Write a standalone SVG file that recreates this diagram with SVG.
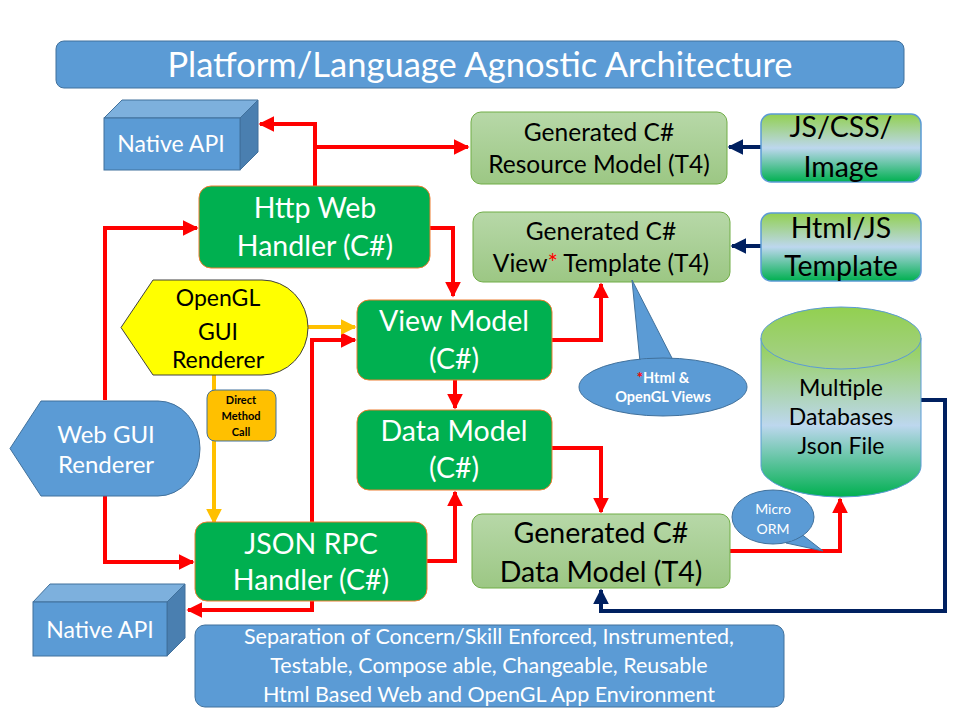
<svg xmlns="http://www.w3.org/2000/svg" width="960" height="720" viewBox="0 0 960 720">
<defs>
<linearGradient id="gGen" x1="0" y1="0" x2="0" y2="1"><stop offset="0" stop-color="#B7D8A8"/><stop offset="1" stop-color="#9CC784"/></linearGradient>
<linearGradient id="gSrc" x1="0" y1="0" x2="0" y2="1"><stop offset="0" stop-color="#92D050"/><stop offset="0.5" stop-color="#BDD7EE"/><stop offset="1" stop-color="#00B050"/></linearGradient>
<linearGradient id="gDb" x1="0" y1="0" x2="0" y2="1"><stop offset="0" stop-color="#92D050"/><stop offset="0.55" stop-color="#BDD7EE"/><stop offset="1" stop-color="#00B050"/></linearGradient>
<linearGradient id="gTop" x1="0" y1="0" x2="0" y2="1"><stop offset="0" stop-color="#92D050"/><stop offset="1" stop-color="#A6D08C"/></linearGradient>
<marker id="aR" viewBox="0 0 10 10" refX="9" refY="5" markerWidth="4" markerHeight="4" orient="auto-start-reverse" markerUnits="strokeWidth"><path d="M0,0 L10,5 L0,10 z" fill="#FF0000"/></marker>
<marker id="aN" viewBox="0 0 10 10" refX="9" refY="5" markerWidth="4" markerHeight="4" orient="auto-start-reverse" markerUnits="strokeWidth"><path d="M0,0 L10,5 L0,10 z" fill="#002060"/></marker>
<marker id="aO" viewBox="0 0 10 10" refX="9" refY="5" markerWidth="4" markerHeight="4" orient="auto-start-reverse" markerUnits="strokeWidth"><path d="M0,0 L10,5 L0,10 z" fill="#FFC000"/></marker>
</defs>
<style>
text{font-family:Lato,"Open Sans","Liberation Sans",sans-serif;text-anchor:middle}
.w{fill:#fff}.k{fill:#000}
.blue{fill:#5B9BD5;stroke:#41719C;stroke-width:1}
.hand{fill:#00B050;stroke:#ED7D31;stroke-width:1}
.gen{fill:url(#gGen);stroke:#70AD47;stroke-width:1}
.src{fill:url(#gSrc);stroke:#5B9BD5;stroke-width:1.5}
.red{fill:none;stroke:#FF0000;stroke-width:4;marker-end:url(#aR)}
.navy{fill:none;stroke:#002060;stroke-width:4;marker-end:url(#aN)}
.org{fill:none;stroke:#FFC000;stroke-width:4;marker-end:url(#aO)}
.t28{font-size:28.5px}.t26{font-size:27px}.t24{font-size:24.5px}.t22{font-size:23px}
.cb{font-size:14.5px;font-weight:bold}
</style>
<rect width="960" height="720" fill="#fff"/>

<g id="title">
<rect x="56" y="41" width="848" height="47" rx="8" class="blue"/>
<text x="480" y="77" class="w" font-size="34.5">Platform/Language Agnostic Architecture</text>
</g>

<g id="connectors">
<path class="red" d="M315,186 V124 H260"/>
<path class="red" d="M315,147 H468"/>
<path class="red" d="M430,228 H453 V296"/>
<path class="red" d="M105,400 V228 H197"/>
<path class="red" d="M105,496 V562 H193"/>
<path class="red" d="M312,522 V340 H355"/>
<path class="red" d="M312,601 V610 H188"/>
<path class="red" d="M455,380 V408"/>
<path class="red" d="M427,561 H455 V492"/>
<path class="red" d="M552,448 H601 V512"/>
<path class="red" d="M552,340 H601 V284"/>
<path class="red" d="M730,551 H840 V499"/>
<path class="navy" d="M761,147 H729"/>
<path class="navy" d="M761,246 H732"/>
<path class="navy" d="M921,400 H945 V611 H601 V590"/>
<path class="org" d="M308,327 H355"/>
<path class="org" d="M214,375 V523"/>
</g>

<g id="native-api-top">
<polygon points="104,118 122,100 258,100 240,118" fill="#7DB0DD" stroke="#41719C"/>
<polygon points="240,118 258,100 258,152 240,170" fill="#4A7FB0" stroke="#41719C"/>
<rect x="104" y="118" width="136" height="52" class="blue"/>
<text x="171" y="152" class="w t22">Native API</text>
</g>

<g id="http-web-handler">
<rect x="199" y="186" width="231" height="82" rx="12" class="hand"/>
<text x="315" y="218" class="w t28">Http Web</text>
<text x="315" y="256" class="w t28">Handler (C#)</text>
</g>

<g id="resource-model">
<rect x="471" y="112" width="256" height="72" rx="10" class="gen"/>
<text x="599" y="141" class="k t24">Generated C#</text>
<text x="599" y="173" class="k t24">Resource Model (T4)</text>
</g>

<g id="js-css-image">
<rect x="761" y="114" width="160" height="68" rx="10" class="src"/>
<text x="841" y="137" class="k t28">JS/CSS/</text>
<text x="841" y="177" class="k t28">Image</text>
</g>

<g id="view-template">
<rect x="473" y="212" width="257" height="70" rx="10" class="gen"/>
<text x="601" y="240" class="k t24">Generated C#</text>
<text x="601" y="272" class="k t24">View<tspan fill="#FF0000">*</tspan> Template (T4)</text>
</g>

<g id="html-js-template">
<rect x="761" y="213" width="160" height="68" rx="10" class="src"/>
<text x="841" y="238" class="k t28">Html/JS</text>
<text x="841" y="276" class="k t28">Template</text>
</g>

<g id="opengl-renderer">
<path d="M153,280 H262 A46,47.5 0 0 1 262,375 H153 L121,327.5 Z" fill="#FFFF00" stroke="#404040" stroke-width="1"/>
<text x="218" y="306" class="k t22">OpenGL</text>
<text x="218" y="340" class="k t22">GUI</text>
<text x="218" y="368" class="k t22">Renderer</text>
</g>

<g id="direct-method-call">
<rect x="207" y="390" width="69" height="51" rx="8" fill="#FFC000" stroke="#41719C" stroke-width="1"/>
<text x="241" y="404" class="k" font-size="11" font-weight="bold">Direct</text>
<text x="241" y="420" class="k" font-size="11" font-weight="bold">Method</text>
<text x="241" y="436" class="k" font-size="11" font-weight="bold">Call</text>
</g>

<g id="view-model">
<rect x="357" y="300" width="195" height="80" rx="12" class="hand"/>
<text x="454" y="331" class="w t28">View Model</text>
<text x="454" y="369" class="w t28">(C#)</text>
</g>

<g id="views-callout">
<path d="M632,280 L674,362 L640,362 Z" fill="#5B9BD5" stroke="#41719C"/>
<ellipse cx="663" cy="387" rx="84" ry="29" class="blue"/>
<path d="M641,361 L673,361" stroke="#5B9BD5" stroke-width="3"/>
<text x="663" y="383" class="w cb"><tspan fill="#FF0000">*</tspan>Html &amp;</text>
<text x="663" y="402" class="w cb">OpenGL Views</text>
</g>

<g id="web-gui-renderer">
<path d="M41,401 H158 A42,47.5 0 0 1 158,496 H41 L10,448.5 Z" class="blue"/>
<text x="106" y="443" class="w" font-size="24">Web GUI</text>
<text x="106" y="473" class="w" font-size="24">Renderer</text>
</g>

<g id="data-model">
<rect x="357" y="410" width="195" height="80" rx="12" class="hand"/>
<text x="454" y="441" class="w t28">Data Model</text>
<text x="454" y="478" class="w t28">(C#)</text>
</g>

<g id="database">
<path d="M761,338 V466 A80,31 0 0 0 921,466 V338" fill="url(#gDb)" stroke="#5B9BD5" stroke-width="1"/>
<ellipse cx="841" cy="338" rx="80" ry="31" fill="url(#gTop)" stroke="#5B9BD5" stroke-width="1"/>
<text x="841" y="396" class="k t22">Multiple</text>
<text x="841" y="425" class="k t22">Databases</text>
<text x="841" y="454" class="k t22">Json File</text>
</g>

<g id="micro-orm">
<path d="M800,533 L823,551 L786,543 Z" fill="#5B9BD5" stroke="#41719C"/>
<ellipse cx="773" cy="517" rx="41" ry="27" class="blue"/>
<path d="M790,540 L801,533" stroke="#5B9BD5" stroke-width="3"/>
<text x="773" y="514" class="w" font-size="14">Micro</text>
<text x="773" y="534" class="w" font-size="14">ORM</text>
</g>

<g id="generated-data-model">
<rect x="472" y="514" width="258" height="74" rx="10" class="gen"/>
<text x="601" y="543" class="k t28">Generated C#</text>
<text x="601" y="582" class="k t28">Data Model (T4)</text>
</g>

<g id="json-rpc-handler">
<rect x="195" y="522" width="232" height="79" rx="12" class="hand"/>
<text x="311" y="554" class="w t28">JSON RPC</text>
<text x="311" y="590" class="w t28">Handler (C#)</text>
</g>

<g id="native-api-bottom">
<polygon points="33,602 50,584 185,584 167,602" fill="#7DB0DD" stroke="#41719C"/>
<polygon points="167,602 185,584 185,638 167,656" fill="#4A7FB0" stroke="#41719C"/>
<rect x="33" y="602" width="134" height="54" class="blue"/>
<text x="100" y="638" class="w t22">Native API</text>
</g>

<g id="summary">
<rect x="195" y="625" width="589" height="82" rx="10" class="blue"/>
<text x="489" y="644" class="w" font-size="21.5">Separation of Concern/Skill Enforced, Instrumented,</text>
<text x="489" y="673" class="w" font-size="21.5">Testable, Compose able, Changeable, Reusable</text>
<text x="489" y="702" class="w" font-size="21.5">Html Based Web and OpenGL App Environment</text>
</g>
</svg>
